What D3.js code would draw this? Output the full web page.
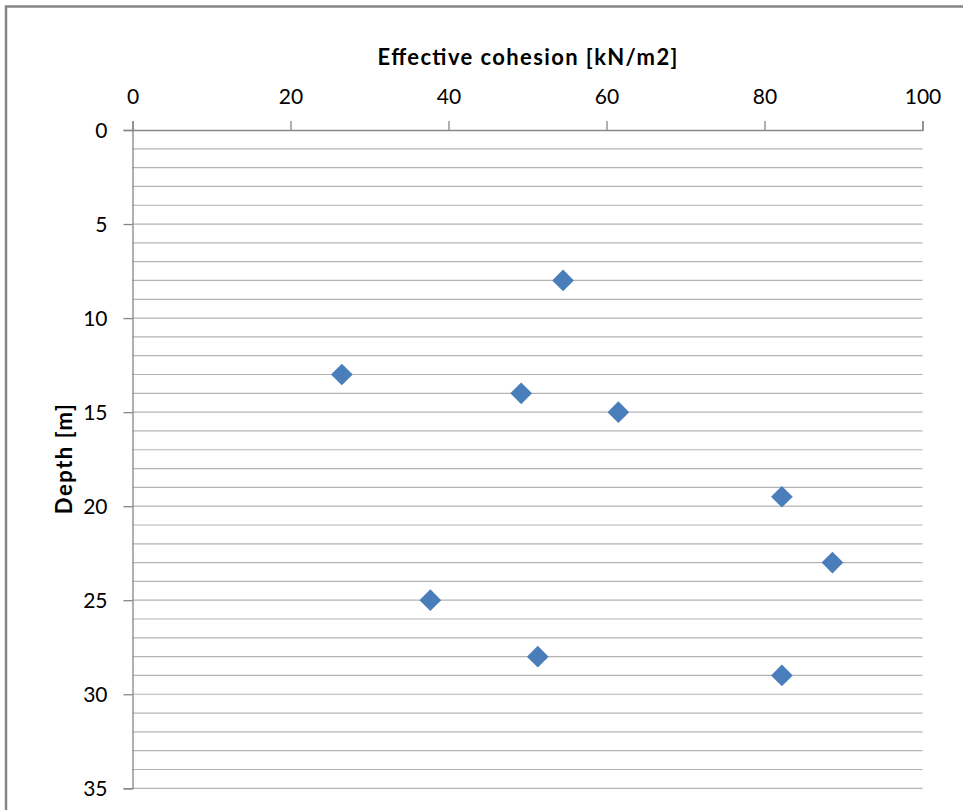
<!DOCTYPE html>
<html>
<head>
<meta charset="utf-8">
<script src="https://cdn.jsdelivr.net/npm/d3@7"></script>
<style>
  html, body { margin: 0; padding: 0; background: #fff; }
  svg { display: block; }
  text { font-family: Lato, "Open Sans", sans-serif; fill: #000; }
</style>
</head>
<body>
<svg id="chart" width="963" height="810"></svg>
<script>
// Effective cohesion measured against depth
const cohesion = [54.5, 26.5, 49.2, 61.5, 82.2, 88.6, 37.7, 51.3, 82.2];
const depth    = [8, 13, 14, 15, 19.5, 23, 25, 28, 29];

const xTicks = [0, 20, 40, 60, 80, 100];
const yTicks = [0, 5, 10, 15, 20, 25, 30, 35];
const yGrid  = d3.range(0, 36, 1);

const svg = d3.select("#chart");
const W = 963, H = 810;
const plot = { left: 132.5, top: 130, right: 922.5, bottom: 788.3 };

const x = d3.scaleLinear().domain([0, 100]).range([plot.left, plot.right]);
const y = d3.scaleLinear().domain([0, 35]).range([plot.top, plot.bottom]);

// chart area frame
svg.append("rect")
  .attr("x", 6).attr("y", 6.5)
  .attr("width", W + 10).attr("height", H + 10)
  .attr("fill", "#fff")
  .attr("stroke", "#868686").attr("stroke-width", 2.5);

// horizontal gridlines, one per metre
svg.append("g")
  .selectAll("line")
  .data(yGrid.filter(d => d > 0))
  .join("line")
  .attr("x1", plot.left).attr("x2", plot.right)
  .attr("y1", d => y(d)).attr("y2", d => y(d))
  .attr("stroke", "#b3b3b3").attr("stroke-width", 1.2);

// top axis
const xAxis = svg.append("g")
  .attr("transform", `translate(0,${plot.top})`)
  .call(d3.axisTop(x).tickValues(xTicks).tickSize(9).tickPadding(17).tickFormat(d3.format("d")));

// left axis
const yAxis = svg.append("g")
  .attr("transform", `translate(${plot.left},0)`)
  .call(d3.axisLeft(y).tickValues(yTicks).tickSize(9).tickPadding(16).tickFormat(d3.format("d")));

[xAxis, yAxis].forEach(g => {
  g.select(".domain").attr("stroke", "#868686").attr("stroke-width", 1.3);
  g.selectAll(".tick line").attr("stroke", "#868686").attr("stroke-width", 1.3);
  g.selectAll(".tick text")
    .style("font-family", "Lato, 'Open Sans', sans-serif")
    .style("font-size", "21px").attr("fill", "#000");
});
yAxis.selectAll(".tick text").attr("dy", "0.36em");

// axis titles
svg.append("text")
  .attr("x", (plot.left + plot.right) / 2).attr("y", 65)
  .attr("text-anchor", "middle")
  .attr("textLength", 300).attr("lengthAdjust", "spacing")
  .style("font-size", "22px").style("font-weight", "bold")
  .text("Effective cohesion [kN/m2]");

svg.append("text")
  .attr("transform", `translate(72,${(plot.top + plot.bottom) / 2}) rotate(-90)`)
  .attr("text-anchor", "middle")
  .attr("textLength", 110).attr("lengthAdjust", "spacing")
  .style("font-size", "22px").style("font-weight", "bold")
  .text("Depth [m]");

// data markers
const diamond = d3.symbol().type(d3.symbolDiamond2).size(300);
svg.append("g")
  .selectAll("path")
  .data(cohesion.map((c, i) => ({ c, d: depth[i] })))
  .join("path")
  .attr("transform", p => `translate(${x(p.c)},${y(p.d)})`)
  .attr("d", diamond)
  .attr("fill", "#4a7ebb");
</script>
</body>
</html>
